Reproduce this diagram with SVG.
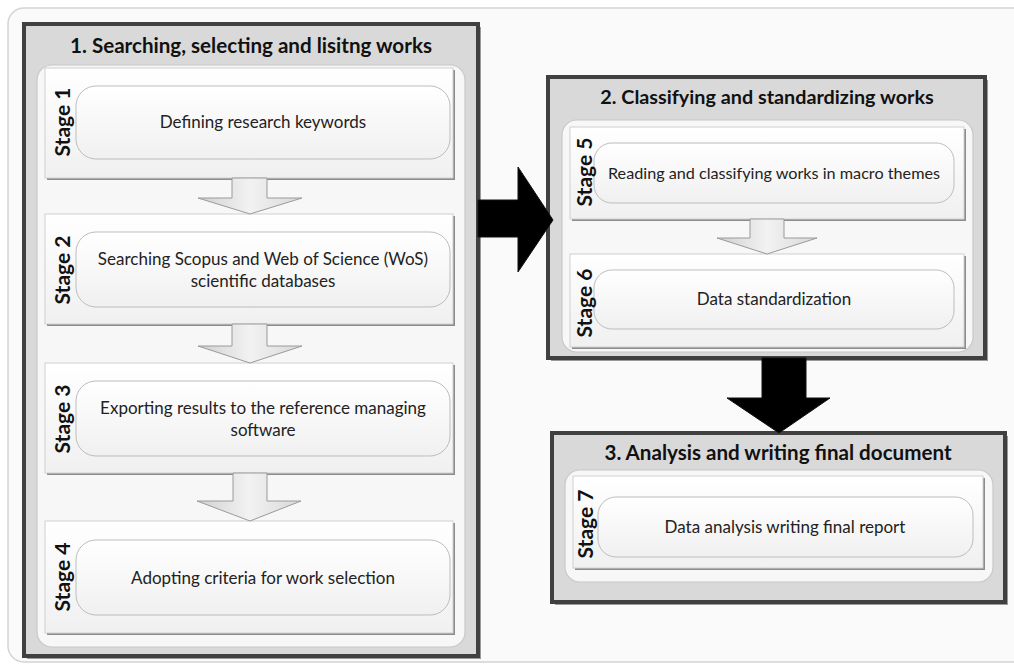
<svg xmlns="http://www.w3.org/2000/svg" width="1014" height="667" viewBox="0 0 1014 667">
<defs>
<linearGradient id="ga" x1="0" y1="0" x2="1" y2="0">
<stop offset="0" stop-color="#d0d0d0"/><stop offset="0.5" stop-color="#f2f2f2"/><stop offset="1" stop-color="#d8d8d8"/>
</linearGradient>
<linearGradient id="gs" x1="0" y1="0" x2="0" y2="1">
<stop offset="0" stop-color="#ffffff"/><stop offset="1" stop-color="#f0f0f0"/>
</linearGradient>
</defs>
<style>
.bg{fill:#fafafa;stroke:#d4d4d4;stroke-width:1.5}
.panel{fill:#d9d9d9;stroke:#404040;stroke-width:4}
.pshadow{fill:#9a9a9a}
.cont{fill:#f7f7f7;stroke:#c8c8c8;stroke-width:1.2}
.stage{fill:url(#gs);stroke:#d0d0d0;stroke-width:1}
.sshadow{fill:#8c8c8c}
.inner{fill:url(#gs);stroke:#bdbdbd;stroke-width:1}
.title{font-family:Lato,"Liberation Sans",sans-serif;font-weight:bold;font-size:20.6px;fill:#111;text-anchor:middle}
.lbl{font-family:Lato,"Liberation Sans",sans-serif;font-weight:bold;font-size:21px;fill:#111;text-anchor:middle}
.txt{font-family:Lato,"Liberation Sans",sans-serif;font-size:17px;fill:#222;text-anchor:middle}
.garrow{fill:url(#ga);stroke:#9a9a9a;stroke-width:1}
.barrow{fill:#000;stroke:#111;stroke-width:1}
</style>
<rect class="bg" x="8" y="8" width="1020" height="654" rx="16"/>

<g id="panel1">
<rect class="pshadow" x="27" y="27" width="454" height="632"/>
<rect class="panel" x="24" y="24" width="454" height="632"/>
<text class="title" x="251" y="53">1. Searching, selecting and lisitng works</text>
<rect class="cont" x="37" y="65" width="428" height="582" rx="15"/>
</g>

<g id="stage1">
<rect class="sshadow" x="47" y="70" width="408" height="110"/>
<rect class="stage" x="45" y="68" width="408" height="110"/>
<rect class="inner" x="76" y="86" width="374" height="73" rx="20"/>
<text class="lbl" transform="translate(70,122) rotate(-90)">Stage 1</text>
<text class="txt" x="263" y="128">Defining research keywords</text>
</g>

<g id="stage2">
<rect class="sshadow" x="47" y="216" width="408" height="110"/>
<rect class="stage" x="45" y="214" width="408" height="110"/>
<rect class="inner" x="76" y="232" width="374" height="75" rx="20"/>
<text class="lbl" transform="translate(70,270) rotate(-90)">Stage 2</text>
<text class="txt" x="263" y="265">Searching Scopus and Web of Science (WoS)</text>
<text class="txt" x="263" y="287">scientific databases</text>
</g>

<g id="stage3">
<rect class="sshadow" x="47" y="365" width="408" height="110"/>
<rect class="stage" x="45" y="363" width="408" height="110"/>
<rect class="inner" x="76" y="381" width="374" height="75" rx="20"/>
<text class="lbl" transform="translate(70,419) rotate(-90)">Stage 3</text>
<text class="txt" x="263" y="414">Exporting results to the reference managing</text>
<text class="txt" x="263" y="436">software</text>
</g>

<g id="stage4">
<rect class="sshadow" x="47" y="523" width="408" height="112"/>
<rect class="stage" x="45" y="521" width="408" height="112"/>
<rect class="inner" x="76" y="540" width="374" height="75" rx="20"/>
<text class="lbl" transform="translate(70,577) rotate(-90)">Stage 4</text>
<text class="txt" x="263" y="584">Adopting criteria for work selection</text>
</g>

<g id="panel2">
<rect class="pshadow" x="551" y="80" width="437" height="281"/>
<rect class="panel" x="548" y="77" width="437" height="281"/>
<text class="title" x="767" y="104" style="font-size:19.8px">2. Classifying and standardizing works</text>
<rect class="cont" x="562" y="120" width="411" height="232" rx="15"/>
</g>

<g id="stage5">
<rect class="sshadow" x="572" y="129" width="394" height="92"/>
<rect class="stage" x="570" y="127" width="394" height="92"/>
<rect class="inner" x="594" y="143" width="360" height="60" rx="18"/>
<text class="lbl" transform="translate(592,172) rotate(-90)">Stage 5</text>
<text class="txt" x="774" y="179" style="font-size:16.2px">Reading and classifying works in macro themes</text>
</g>

<g id="stage6">
<rect class="sshadow" x="572" y="256" width="394" height="93"/>
<rect class="stage" x="570" y="254" width="394" height="93"/>
<rect class="inner" x="594" y="270" width="360" height="59" rx="18"/>
<text class="lbl" transform="translate(592,303) rotate(-90)">Stage 6</text>
<text class="txt" x="774" y="305">Data standardization</text>
</g>

<g id="panel3">
<rect class="pshadow" x="555" y="436" width="453" height="169"/>
<rect class="panel" x="552" y="433" width="453" height="169"/>
<text class="title" x="778" y="460">3. Analysis and writing final document</text>
<rect class="cont" x="565" y="470" width="428" height="112" rx="15"/>
</g>

<g id="stage7">
<rect class="sshadow" x="575" y="478" width="410" height="92"/>
<rect class="stage" x="573" y="476" width="410" height="92"/>
<rect class="inner" x="598" y="497" width="375" height="60" rx="18"/>
<text class="lbl" transform="translate(593,524) rotate(-90)">Stage 7</text>
<text class="txt" x="785" y="533">Data analysis writing final report</text>
</g>

<g id="connectors">
<polygon class="garrow" points="232,178 267,178 267,198 302,198 250,214 198,198 232,198"/>
<polygon class="garrow" points="232,324 267,324 267,346 302,346 250,363 198,346 232,346"/>
<polygon class="garrow" points="233,473 267,473 267,501 301,501 250,521 197,501 233,501"/>
<polygon class="garrow" points="750,219 784,219 784,238 817,238 767,254 717,238 750,238"/>
<polygon class="barrow" points="478,200 518,200 518,167 553,220 518,272 518,237 478,237"/>
<polygon class="barrow" points="762,358 806,358 806,398 830,398 779,433 727,398 762,398"/>
</g>
</svg>
